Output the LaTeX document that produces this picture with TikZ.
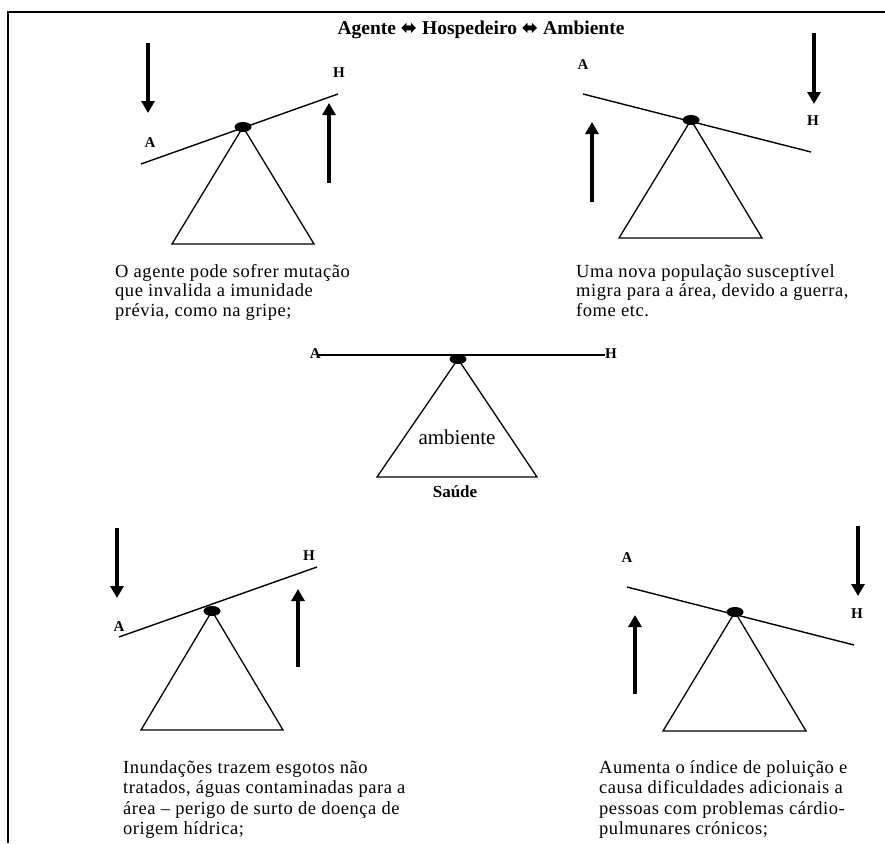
\documentclass[tikz,border=0pt]{standalone}
\usepackage{fontspec}
\setmainfont{Liberation Serif}
\newfontfamily\bodyf[LetterSpace=3]{Liberation Serif}
\newfontfamily\symf{DejaVu Sans}
\usetikzlibrary{arrows.meta}
\begin{document}
\begin{tikzpicture}[x=1pt,y=-1pt,
  lever/.style={line width=1.4pt},
  stand/.style={line width=1.3pt},
  push/.style={line width=3.2pt,-{Triangle[width=13pt,length=12pt]}},
  lab/.style={font=\bfseries\fontsize{15}{17}\selectfont, inner sep=0pt},
  desc/.style={font=\bodyf\fontsize{18.5}{21}\selectfont, inner sep=0pt, anchor=base west},
  pivot/.style={fill=black}
]
\useasboundingbox (0,0) rectangle (885,843);
\draw[line width=2pt] (885,12) -- (7.5,12) -- (7.5,843);
\node[font=\bfseries\fontsize{19.5}{22}\selectfont, inner sep=0pt] (title) at (481,30)
  {Agente {\symf\bfseries ⬌} Hospedeiro {\symf\bfseries ⬌} Ambiente};

% ---- top left
\coordinate (tlA) at (141,164); \coordinate (tlH) at (338,94);
\coordinate (tlP) at (243,127);
\draw[lever] (tlA) -- (tlH);
\draw[stand] (tlP) -- (172,244) -- (314,244) -- cycle;
\fill[pivot] (tlP) ellipse [x radius=8.5, y radius=5];
\coordinate (tld0) at (148,43); \coordinate (tld1) at (148,113);
\draw[push] (tld0) -- (tld1);
\coordinate (tlu0) at (329,183); \coordinate (tlu1) at (329,103);
\draw[push] (tlu0) -- (tlu1);
\node[lab] (tlLA) at (150,143) {A};
\node[lab] (tlLH) at (339,73) {H};
\foreach \t [count=\i] in {{O agente pode sofrer mutação},{que invalida a imunidade},{prévia, como na gripe;}}
  \node[desc] (tlt\i) at (115,277+19.5*\i-19.5) {\t};

% ---- top right
\coordinate (trA) at (583,94); \coordinate (trH) at (811,152);
\coordinate (trP) at (691,120);
\draw[lever] (trA) -- (trH);
\draw[stand] (trP) -- (619,238) -- (762,238) -- cycle;
\fill[pivot] (trP) ellipse [x radius=8.5, y radius=5];
\coordinate (trd0) at (814,33); \coordinate (trd1) at (814,104);
\draw[push] (trd0) -- (trd1);
\coordinate (tru0) at (592,202); \coordinate (tru1) at (592,122);
\draw[push] (tru0) -- (tru1);
\node[lab] (trLA) at (583,65) {A};
\node[lab] (trLH) at (813,121) {H};
\foreach \t [count=\i] in {{Uma nova população susceptível},{migra para a área, devido a guerra,},{fome etc.}}
  \node[desc] (trt\i) at (576,277+19.5*\i-19.5) {\t};

% ---- middle
\coordinate (mA) at (318,355); \coordinate (mH) at (605,355);
\coordinate (mP) at (458,359);
\draw[lever] (mA) -- (mH);
\draw[stand] (mP) -- (377,477) -- (537,477) -- cycle;
\fill[pivot] (mP) ellipse [x radius=8.5, y radius=5];
\node[lab, anchor=east] (mLA) at (321,354) {A};
\node[lab, anchor=west] (mLH) at (605,354) {H};
\node[font=\fontsize{21}{23}\selectfont, inner sep=0pt] (amb) at (457,437) {ambiente};
\node[font=\bfseries\fontsize{17}{19}\selectfont, inner sep=0pt] (saude) at (455,492) {Saúde};

% ---- bottom left
\coordinate (blA) at (119,637); \coordinate (blH) at (317,567);
\coordinate (blP) at (212,611);
\draw[lever] (blA) -- (blH);
\draw[stand] (blP) -- (141,730) -- (283,730) -- cycle;
\fill[pivot] (blP) ellipse [x radius=8.5, y radius=5];
\coordinate (bld0) at (117,528); \coordinate (bld1) at (117,598);
\draw[push] (bld0) -- (bld1);
\coordinate (blu0) at (298,667); \coordinate (blu1) at (298,589);
\draw[push] (blu0) -- (blu1);
\node[lab] (blLA) at (119,627) {A};
\node[lab] (blLH) at (309,556) {H};
\foreach \t [count=\i] in {{Inundações trazem esgotos não},{tratados, águas contaminadas para a},{área – perigo de surto de doença de},{origem hídrica;}}
  \node[desc] (blt\i) at (123,773+20.5*\i-20.5) {\t};

% ---- bottom right
\coordinate (brA) at (627,587); \coordinate (brH) at (854,645);
\coordinate (brP) at (735,612);
\draw[lever] (brA) -- (brH);
\draw[stand] (brP) -- (663,731) -- (806,731) -- cycle;
\fill[pivot] (brP) ellipse [x radius=8.5, y radius=5];
\coordinate (brd0) at (858,526); \coordinate (brd1) at (858,596);
\draw[push] (brd0) -- (brd1);
\coordinate (bru0) at (635,694); \coordinate (bru1) at (635,615);
\draw[push] (bru0) -- (bru1);
\node[lab] (brLA) at (627,558) {A};
\node[lab] (brLH) at (857,614) {H};
\foreach \t [count=\i] in {{Aumenta o índice de poluição e},{causa dificuldades adicionais a},{pessoas com problemas cárdio-},{pulmunares crónicos;}}
  \node[desc] (brt\i) at (599,773+20.5*\i-20.5) {\t};
\end{tikzpicture}
\end{document}
